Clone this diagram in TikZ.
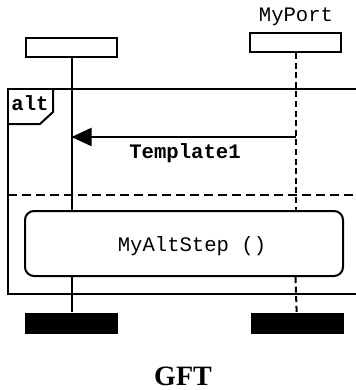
\documentclass[tikz,border=0pt]{standalone}
\usepackage{fontspec}
\setmainfont{Liberation Serif}
\setmonofont{Liberation Mono}
\usetikzlibrary{arrows.meta}

\begin{document}
\begin{tikzpicture}[x=0.5pt, y=-0.5pt, line width=1pt,
  every node/.style={font=\fontsize{10.3}{12}\selectfont\ttfamily},
  instbox/.style={draw, minimum width=45.5pt, minimum height=9.5pt, inner sep=0pt},
  endbox/.style={fill, minimum width=46.5pt, minimum height=10.5pt, inner sep=0pt},
  stepbox/.style={draw, rounded corners=4.5pt, minimum width=159pt, minimum height=32.5pt, inner sep=0pt},
  portline/.style={dash pattern=on 3pt off 1.8pt},
  altline/.style={dash pattern=on 4.5pt off 2.5pt},
  msg/.style={-{Triangle[length=10pt, width=9pt]}}]
\useasboundingbox (0,0) rectangle (356,390);
% instances
\node[instbox] (comp) at (71.5,47.5) {};
\node[instbox] (port) at (295.5,42.5) {};
\node (portname) at (296,17) {MyPort};
\node[endbox] (compend) at (71.5,323.5) {};
\node[endbox] (portend) at (297,323.5) {};
% alt frame
\draw (356,89) -- (8,89) -- (8,294) -- (356,294);
\draw[altline] (8,195) -- (356,195);
\draw (8,124) -- (40,124) -- (53,112) -- (53,89);
\node[font=\fontsize{10.3}{12}\selectfont\ttfamily\bfseries] (alt) at (30,103) {alt};
% altstep
\node[stepbox] (step) at (184,243.5) {};
\node (steplabel) at (192,246) {MyAltStep ()};
% lifelines
\draw (comp) -- (comp |- step.north);
\draw (step.south -| comp) -- (compend);
\draw[portline] (port) -- (port |- step.north);
\draw[portline] (step.south -| port) -- (portend);
% message
\coordinate (msgy) at (0,137);
\draw[msg] (port |- msgy) -- (comp |- msgy);
\node[font=\fontsize{10.3}{12}\selectfont\ttfamily\bfseries] (msglabel) at (185,153) {Template1};
\node[font=\fontsize{14}{16}\selectfont\rmfamily\bfseries] (caption) at (183,376) {GFT};
\end{tikzpicture}
\end{document}
